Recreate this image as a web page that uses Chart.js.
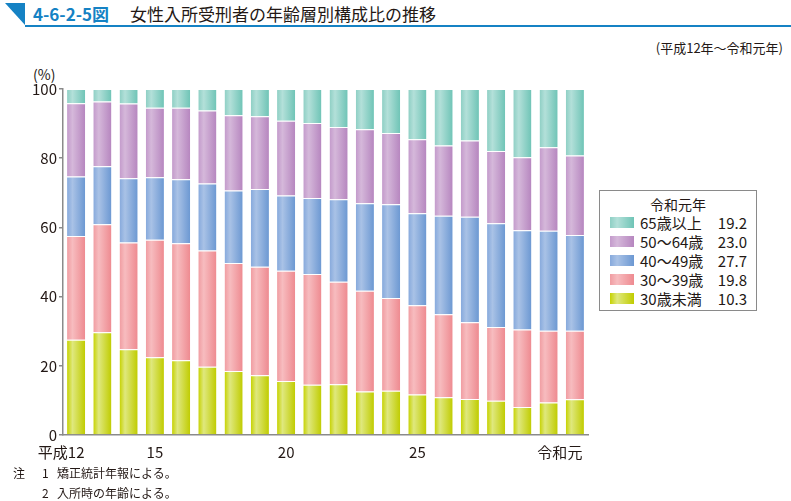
<!DOCTYPE html>
<html lang="ja">
<head>
<meta charset="utf-8">
<script src="https://cdn.jsdelivr.net/npm/chart.js@4.4.1/dist/chart.umd.min.js"></script>
<style>
  html, body { margin:0; padding:0; background:#fff; }
  body { width:791px; height:501px; position:relative; overflow:hidden;
         font-family:"Noto Sans CJK JP","Noto Sans",sans-serif; color:#231815; }
  #c { position:absolute; left:0; top:0; }
  .abs { position:absolute; white-space:nowrap; }
  #tri { position:absolute; left:5px; top:3px; width:0; height:0;
         border-top:22px solid #1582c4; border-left:20px solid transparent; }
  #uline { position:absolute; left:25px; top:25px; width:766px; height:2px; background:#1582c4; }
  #num { left:33px; top:3px; font-size:17px; font-weight:bold; color:#1582c4; line-height:22px; }
  #ttl { left:130px; top:3px; font-size:17px; line-height:22px; color:#231815; }
  #period { right:8px; top:38px; font-size:13px; }
  #pct { left:33px; top:64px; font-size:14px; }
  #legend { position:absolute; left:599px; top:190px; width:158px; height:121px;
            border:1px solid #8a8a8a; box-sizing:border-box; background:#fff; }
  #legend .lt { position:absolute; left:0; width:100%; top:3px; text-align:center; font-size:14px; line-height:20px; }
  #legend .row { position:absolute; left:0; width:100%; height:19px; font-size:15px; line-height:19px; }
  #legend .sw { position:absolute; left:10px; top:4px; width:24px; height:11px; }
  #legend .nm { position:absolute; left:40px; top:0; }
  #legend .vl { position:absolute; right:9px; top:0; }
  .note { font-size:12px; line-height:16px; }
</style>
</head>
<body>
<div id="tri"></div><div id="uline"></div>
<div class="abs" id="num">4-6-2-5図</div>
<div class="abs" id="ttl">女性入所受刑者の年齢層別構成比の推移</div>
<div class="abs" id="period">(平成12年～令和元年)</div>
<div class="abs" id="pct">(%)</div>
<canvas id="c" width="791" height="501"></canvas>
<div id="legend"></div>
<div class="abs note" style="left:13px;top:465px;">注</div>
<div class="abs note" style="left:42px;top:465px;">1</div>
<div class="abs note" style="left:57px;top:465px;">矯正統計年報による。</div>
<div class="abs note" style="left:42px;top:485px;">2</div>
<div class="abs note" style="left:57px;top:485px;">入所時の年齢による。</div>
<script>
// ---- data ----
const years = ['平成12','13','14','15','16','17','18','19','20','21','22','23','24','25','26','27','28','29','30','令和元'];
const tickLabels = ['平成12','','','15','','','','','20','','','','','25','','','','','','令和元'];
const seriesNames = ['30歳未満','30～39歳','40～49歳','50～64歳','65歳以上'];
const under30 = [27.5,29.7,24.8,22.5,21.6,19.7,18.5,17.3,15.6,14.5,14.7,12.6,12.8,11.7,10.9,10.4,9.9,8.1,9.4,10.3];
const age30s  = [30.0,31.2,30.8,33.9,33.8,33.6,31.2,31.3,31.9,32.0,29.6,29.1,26.8,25.8,24.0,22.2,21.3,22.4,20.7,19.8];
const age40s  = [17.2,16.8,18.6,18.1,18.5,19.4,21.0,22.5,21.7,22.0,23.8,25.3,27.1,26.6,28.5,30.5,30.0,28.7,28.9,27.7];
const age50s  = [21.2,18.7,21.6,20.1,20.7,21.1,21.7,21.0,21.6,21.7,20.9,21.4,20.6,21.4,20.3,22.0,20.9,21.1,24.2,23.0];
const over65  = [4.1,3.6,4.2,5.4,5.4,6.2,7.6,7.9,9.2,9.8,11.0,11.6,12.7,14.5,16.3,14.9,17.9,19.7,16.8,19.2];
const yTicks = [0,20,40,60,80,100];

// ---- styles ----
const palettes = [
  ['#c6d200','#dfe87e','#c0cc00'],
  ['#f09ca1','#f7bcbf','#ee8a90'],
  ['#86a9dc','#a9c2e6','#6c98d2'],
  ['#c39acb','#d5b8da','#b686bf'],
  ['#8ecfc4','#b3e0d9','#6fc4b6']
];
const BAR_PCT = 0.69;

function gradFor(idx) {
  const p = palettes[idx];
  return (ctx) => {
    const chart = ctx.chart;
    const xs = chart.scales && chart.scales.x;
    if (!xs || !chart.chartArea || ctx.dataIndex === undefined) return p[1];
    const cx = xs.getPixelForValue(ctx.dataIndex);
    const w = xs.width / years.length * BAR_PCT;
    const g = chart.ctx.createLinearGradient(cx - w / 2, 0, cx + w / 2, 0);
    g.addColorStop(0, p[0]);
    g.addColorStop(0.3, p[1]);
    g.addColorStop(1, p[2]);
    return g;
  };
}

const seriesData = [under30, age30s, age40s, age50s, over65];
const datasets = seriesData.map((d, i) => ({
  label: seriesNames[i],
  data: d,
  backgroundColor: gradFor(i),
  borderColor: 'rgba(255,255,255,0.75)',
  borderWidth: {top:1, bottom:0, left:0, right:0},
  borderSkipped: false,
  barPercentage: BAR_PCT,
  categoryPercentage: 1.0
}));

const AX = '#8a8a8a';
new Chart(document.getElementById('c'), {
  type: 'bar',
  data: { labels: years, datasets },
  options: {
    responsive: false,
    animation: false,
    layout: { padding: { left: 23, right: 203, top: 89, bottom: 36 } },
    plugins: { legend: { display: false }, tooltip: { enabled: false } },
    scales: {
      x: {
        stacked: true,
        grid: { display: false, drawTicks: false },
        border: { display: true, color: AX, width: 1.5 },
        ticks: {
          autoSkip: false, maxRotation: 0, padding: 8,
          color: '#231815',
          font: { family: '"Noto Sans CJK JP"', size: 15 },
          callback: (v, i) => {
            const t = tickLabels[i];
            if (!t) return '';
            if (t.length >= 3 && /[^0-9]/.test(t.slice(-1))) return t + '\u2003\u2003'; // 令和元: center on last char
            if (/^[^0-9]+[0-9]+$/.test(t) && t.length > 2) return t + '\u2003\u2003';   // 平成12: center on number
            return t;
          }
        },
        afterFit: (s) => { s.height = 30; }
      },
      y: {
        stacked: true,
        min: 0, max: 100,
        afterBuildTicks: (s) => { s.ticks = yTicks.map(v => ({ value: v })); },
        grid: { display: true, drawOnChartArea: false, drawTicks: true, tickLength: 4, color: AX, lineWidth: 1.5 },
        border: { display: true, color: AX, width: 1.5 },
        ticks: {
          padding: 2, color: '#231815',
          font: { family: '"Noto Sans CJK JP"', size: 15 }
        },
        afterFit: (s) => { s.width = 40; }
      }
    }
  }
});

// ---- legend (built from arrays) ----
const lg = document.getElementById('legend');
const lastIdx = years.length - 1;
lg.innerHTML = '<div class="lt">令和元年</div>';
for (let k = 0; k < 5; k++) {
  const i = 4 - k;
  const p = palettes[i];
  const row = document.createElement('div');
  row.className = 'row';
  row.style.top = (22 + k * 19) + 'px';
  row.innerHTML = '<div class="sw" style="background:linear-gradient(to right,' + p[0] + ' 0%,' + p[1] + ' 30%,' + p[2] + ' 100%)"></div>' +
    '<div class="nm">' + seriesNames[i] + '</div>' +
    '<div class="vl">' + seriesData[i][lastIdx].toFixed(1) + '</div>';
  lg.appendChild(row);
}
</script>
</body>
</html>
